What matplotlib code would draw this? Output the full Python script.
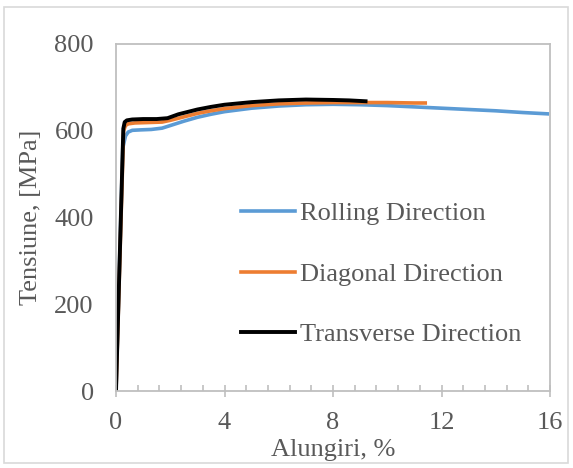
import matplotlib.pyplot as plt
from matplotlib.patches import Rectangle
from matplotlib.ticker import MultipleLocator

# Stress-strain curves, strain in %, stress in MPa
rolling_x = [0, 0.25, 0.35, 0.45, 0.6, 0.9, 1.3, 1.7, 2.0, 2.5, 3.0, 3.5, 4.0, 5.0, 6.0,
             7.0, 8.0, 9.0, 10.0, 11.0, 12.0, 13.0, 14.0, 15.0, 15.9]
rolling_y = [0, 560, 588, 597, 601, 602, 603, 606, 612, 622, 631, 638, 644, 652, 657,
             660, 661, 660, 658, 655, 652, 649, 646, 642, 639]

diagonal_x = [0, 0.28, 0.35, 0.45, 0.7, 1.2, 1.7, 2.0, 2.5, 3.0, 3.5, 4.0, 5.0, 6.0,
              7.0, 8.0, 9.0, 10.0, 11.0, 11.4]
diagonal_y = [0, 600, 612, 616, 618, 619, 620, 624, 632, 640, 646, 651, 658, 662,
              664, 665, 665, 665, 664, 664]

transverse_x = [0, 0.27, 0.32, 0.4, 0.6, 1.0, 1.5, 1.9, 2.3, 3.0, 3.5, 4.0, 5.0, 6.0,
                7.0, 8.0, 8.6, 9.2]
transverse_y = [0, 605, 620, 624, 626, 627, 627, 629, 638, 649, 655, 660, 666, 670,
                672, 671, 670, 668]

labels = ["Rolling Direction", "Diagonal Direction", "Transverse Direction"]
colors = ["#5B9BD5", "#ED7D31", "#000000"]

plt.rcParams['font.family'] = ['Liberation Serif', 'DejaVu Serif']
text_color = "#595959"
grid_color = "#BFBFBF"
fs = 19

fig = plt.figure(figsize=(5.73, 4.68), dpi=100)
ax = fig.add_axes([116 / 573, 1 - 391 / 468, 434 / 573, 347 / 468])

ax.plot(rolling_x, rolling_y, color=colors[0], lw=2.6, label=labels[0])
ax.plot(diagonal_x, diagonal_y, color=colors[1], lw=2.6, label=labels[1])
ax.plot(transverse_x, transverse_y, color=colors[2], lw=2.8, label=labels[2])

ax.set_xlim(0, 16)
ax.set_ylim(0, 800)
ax.xaxis.set_major_locator(MultipleLocator(4))
ax.xaxis.set_minor_locator(MultipleLocator(0.8))
ax.yaxis.set_major_locator(MultipleLocator(200))

for s in ax.spines.values():
    s.set_color(grid_color)
    s.set_linewidth(1.3)

ax.tick_params(axis='x', which='major', direction='inout', length=9, width=1.2,
               color=grid_color, labelsize=fs, labelcolor=text_color, pad=10.5)
ax.tick_params(axis='x', which='minor', direction='in', length=4, width=1.2,
               color=grid_color)
ax.tick_params(axis='y', which='major', length=0, labelsize=fs,
               labelcolor=text_color, pad=16)

ax.set_xlabel("Alungiri, %", fontsize=fs, color=text_color, labelpad=3.5)
ax.set_ylabel("Tensiune, [MPa]", fontsize=fs, color=text_color, labelpad=9)

ax.legend(loc='upper left', bbox_to_anchor=((241 - 116) / 434, (391 - 202) / 347),
          frameon=False, fontsize=fs, labelcolor=text_color, handlelength=2.05,
          handletextpad=0.2, labelspacing=1.4, borderpad=0, borderaxespad=0)

# light frame around the whole chart
fig.patches.append(Rectangle((4 / 573, 5 / 468), 564 / 573, 456 / 468,
                             transform=fig.transFigure, fill=False,
                             edgecolor="#D9D9D9", lw=1.2))

fig.savefig("out.png", dpi=100)
